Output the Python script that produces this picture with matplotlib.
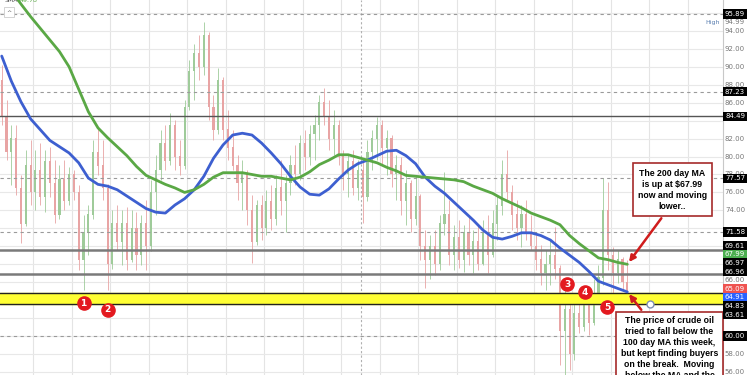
import numpy as np
import matplotlib
matplotlib.use("Agg")
import matplotlib.pyplot as plt
from matplotlib.patches import Rectangle

# daily-ish candles of crude oil
opens = [88.5, 84.5, 80.5, 82.0, 76.5, 72.5, 79.0, 76.0, 78.5, 75.5,
         79.5, 77.0, 73.5, 77.5, 75.0, 78.0, 76.0, 68.5, 71.5, 73.5,
         80.5, 79.0, 76.5, 68.0, 72.5, 70.5, 72.5, 68.5, 72.0, 69.0,
         72.5, 70.0, 76.0, 78.5, 81.5, 79.5, 83.5, 80.0, 79.0, 85.5,
         89.5, 91.5, 90.0, 93.5, 85.5, 83.0, 88.5, 83.0, 81.0, 79.0,
         77.0, 78.0, 74.0, 70.5, 74.5, 72.0, 75.0, 73.0, 76.5, 75.0,
         77.0, 79.0, 78.0, 81.5, 80.0, 82.5, 83.5, 86.0, 84.5, 82.0,
         83.5, 80.0, 78.0, 79.5, 76.5, 78.5, 75.5, 80.5, 82.0, 83.5,
         81.0, 82.0, 78.0, 79.0, 75.0, 77.0, 73.0, 75.5, 70.0, 68.5,
         70.0, 68.0, 72.5, 73.5, 69.0, 71.0, 68.5, 71.5, 69.0, 70.5,
         68.0, 71.5, 69.0, 72.5, 74.5, 78.0, 76.0, 73.5, 72.0, 73.5,
         71.5, 70.0, 68.5, 67.0, 68.0, 69.0, 67.5, 60.5, 63.0, 58.0,
         62.5, 61.0, 63.5, 61.5, 64.5, 66.5, 74.0, 69.0, 67.0, 68.5,
         66.0]
highs = [90.2, 86.3, 83.5, 83.5, 77.9, 80.7, 81.8, 80.7, 81.5, 80.7,
         81.1, 79.6, 79.1, 79.6, 78.8, 78.5, 76.8, 73.5, 74.6, 81.8,
         83.2, 81.8, 76.9, 74.0, 74.6, 74.0, 74.4, 74.0, 73.8, 73.5,
         75.2, 77.4, 80.2, 83.0, 83.5, 84.8, 84.1, 81.8, 86.3, 90.8,
         92.6, 93.5, 95.0, 93.9, 86.9, 89.9, 88.9, 85.2, 83.0, 80.2,
         79.6, 78.5, 75.7, 75.2, 75.7, 76.3, 76.8, 77.9, 79.6, 77.9,
         80.2, 81.3, 82.4, 83.0, 83.5, 84.6, 86.9, 87.6, 86.3, 85.2,
         84.1, 80.7, 80.2, 80.7, 79.6, 79.6, 81.8, 83.0, 84.4, 84.1,
         83.0, 82.4, 80.2, 79.9, 78.5, 77.4, 77.9, 75.8, 71.8, 71.3,
         71.8, 73.5, 78.3, 75.2, 72.4, 72.9, 72.4, 73.5, 71.8, 72.4,
         72.9, 73.5, 74.0, 75.7, 79.6, 80.7, 76.8, 75.2, 74.6, 75.2,
         73.5, 71.3, 70.1, 69.6, 70.7, 72.1, 67.9, 65.1, 64.0, 64.0,
         64.8, 64.6, 65.1, 66.3, 67.9, 77.6, 77.2, 69.9, 69.6, 68.8,
         68.5]
lows = [83.5, 79.6, 76.8, 75.7, 70.4, 72.3, 74.6, 74.0, 74.6, 73.8,
        75.5, 72.6, 73.0, 74.0, 74.6, 75.2, 67.4, 65.1, 69.0, 73.0,
        77.9, 75.2, 65.1, 67.5, 69.6, 67.9, 67.4, 68.2, 67.4, 67.9,
        67.4, 69.5, 73.5, 77.4, 78.5, 79.1, 78.5, 77.9, 78.6, 85.2,
        86.3, 88.5, 89.1, 84.1, 81.8, 82.5, 81.8, 79.6, 78.5, 75.2,
        74.0, 72.4, 68.1, 70.1, 70.7, 71.3, 71.8, 72.4, 73.5, 71.6,
        75.7, 76.8, 77.4, 78.5, 79.1, 79.6, 81.8, 83.5, 80.7, 80.2,
        79.1, 76.3, 75.5, 75.7, 75.2, 72.6, 75.0, 78.5, 79.6, 79.1,
        77.9, 76.6, 75.2, 73.5, 72.4, 71.6, 72.4, 68.5, 65.4, 66.3,
        66.8, 67.4, 71.3, 67.9, 67.4, 67.6, 67.1, 67.9, 67.0, 67.4,
        67.9, 67.0, 68.8, 70.7, 73.5, 75.2, 71.8, 70.7, 69.9, 70.7,
        69.6, 67.4, 65.7, 65.1, 65.7, 66.3, 56.8, 55.6, 56.2, 57.3,
        60.3, 60.6, 60.1, 61.2, 64.0, 65.7, 67.4, 64.8, 65.9, 65.1,
        65.0]
closes = [84.5, 80.5, 82.0, 76.5, 72.5, 79.0, 76.0, 78.5, 75.5, 79.5,
          77.0, 73.5, 77.5, 75.0, 78.0, 76.0, 68.5, 71.5, 73.5, 80.5,
          79.0, 76.5, 68.0, 72.5, 70.5, 72.5, 68.5, 72.0, 69.0, 72.5,
          70.0, 76.0, 78.5, 81.5, 79.5, 83.5, 80.0, 79.0, 85.5, 89.5,
          91.5, 90.0, 93.5, 85.5, 83.0, 88.5, 83.0, 81.0, 79.0, 77.0,
          78.0, 74.0, 70.5, 74.5, 72.0, 75.0, 73.0, 76.5, 75.0, 77.0,
          79.0, 78.0, 81.5, 80.0, 82.5, 83.5, 86.0, 84.5, 82.0, 83.5,
          80.0, 78.0, 79.5, 76.5, 78.5, 75.5, 80.5, 82.0, 83.5, 81.0,
          82.0, 78.0, 79.0, 75.0, 77.0, 73.0, 75.5, 70.0, 68.5, 70.0,
          68.0, 72.5, 73.5, 69.0, 71.0, 68.5, 71.5, 69.0, 70.5, 68.0,
          71.5, 69.0, 72.5, 74.5, 78.0, 76.0, 73.5, 72.0, 73.5, 71.5,
          70.0, 68.5, 67.0, 68.0, 69.0, 67.5, 60.5, 63.0, 58.0, 62.5,
          61.0, 63.5, 61.5, 64.5, 66.5, 74.0, 69.0, 67.0, 68.5, 66.0,
          65.09]

# moving averages, read every 2 bars
ma_step = 2
ma100 = [91.2, 88.4, 86.1, 84.2, 83.0, 81.8, 81.1, 80.4, 79.3, 77.6,
         76.9, 76.7, 76.3, 75.6, 74.9, 74.2, 73.8, 73.7, 74.6, 75.3,
         76.3, 77.8, 79.8, 81.3, 82.4, 82.6, 82.4, 81.5, 80.4, 79.2,
         77.8, 76.6, 75.8, 75.7, 76.4, 77.5, 78.5, 79.2, 79.6, 80.1,
         80.6, 80.7, 80.1, 79.2, 77.7, 76.7, 75.9, 74.9, 73.9, 72.9,
         71.8, 71.0, 70.8, 71.1, 71.5, 71.5, 71.2, 70.7, 69.8, 69.0,
         68.2, 67.2, 66.1, 65.7, 65.3, 64.91]
ma200 = [99.9, 98.5, 97.0, 95.6, 94.3, 93.0, 91.7, 90.0, 87.5, 85.0,
         83.2, 82.1, 81.1, 80.1, 78.9, 77.9, 77.4, 76.9, 76.5, 76.0,
         76.3, 76.9, 77.7, 78.2, 78.2, 78.2, 78.0, 77.8, 77.8, 77.6,
         77.4, 77.7, 78.3, 79.1, 79.6, 80.2, 80.2, 79.9, 79.6, 79.3,
         78.8, 78.4, 77.9, 77.8, 77.7, 77.6, 77.5, 77.4, 77.2, 76.7,
         76.3, 75.9, 75.3, 74.8, 74.3, 73.7, 73.3, 72.9, 72.4, 71.2,
         70.3, 69.5, 68.7, 68.5, 68.2, 67.99]

# horizontal levels
dashed_levels = [95.89, 87.23, 77.57, 71.58, 60.00]
solid_levels = [84.49, 69.61, 66.96]
band_low, band_high = 63.61, 64.83
high_value = 94.99

# right-hand price tags: (value, colour)
tag_values = [95.89, 87.23, 84.49, 77.57, 71.58, 69.61, 67.99, 66.97, 66.96,
              66.00, 65.09, 64.91, 64.83, 63.61, 60.00]
tag_colors = ['black', 'black', 'black', 'black', 'black', 'black', '#4caf50',
              'black', 'black', 'none', '#ef5350', '#2962ff', 'black', 'black',
              'black']
plain_ticks = [94, 92, 90, 88, 86, 82, 80, 78, 76, 74, 58, 56]

# numbered touches of the support band (bar index, price)
touch_bars = [17, 22, 117.5, 121.2, 125.8]
touch_prices = [63.67, 62.9, 65.79, 64.9, 63.2]
touch_labels = ['1', '2', '3', '4', '5']

note_ma200 = "The 200 day MA\nis up at $67.99\nnow and moving\nlower.."
note_ma100 = ("The price of crude oil\ntried to fall below the\n100 day MA this week,\n"
              "but kept finding buyers\non the break.  Moving\nbelow the MA and the")

W, H = 750, 375
AX_W = 723
fig = plt.figure(figsize=(W / 100, H / 100), dpi=100)
ax = fig.add_axes([0, 0, AX_W / W, 1])

bar_px = 4.8125
x_left = -1.72 / bar_px
ax.set_xlim(x_left, x_left + AX_W / bar_px)
ax.set_ylim(55.65, 97.45)

# grid
for k in range(18):
    ax.axvline(6.5 + 8 * k, color='#e4e4e4', lw=0.8, zorder=0)
for p in range(56, 98, 2):
    ax.axhline(p, color='#e8e8e8', lw=0.8, zorder=0)
ax.axvline(74.7, color='#b0b0b0', lw=0.8, ls=(0, (2, 2)), zorder=1)

# candles
n = len(closes)
idx = np.arange(n)
o = np.array(opens)
c = np.array(closes)
up = c >= o
cols = np.where(up, '#9fcb9a', '#e8a4a4')
ax.vlines(idx, lows, highs, colors=cols, lw=0.6, zorder=2)
ax.bar(idx, np.abs(c - o) + 0.05, bottom=np.minimum(o, c), width=0.45,
       color=cols, zorder=2)

# levels
for lv in dashed_levels:
    ax.axhline(lv, color='#9a9a9a', lw=0.8, ls=(0, (3, 3)), zorder=3)
ax.axhline(solid_levels[0], color='#555555', lw=1.0, zorder=3)
for lv in solid_levels[1:]:
    ax.axhline(lv, color='#7a7a7a', lw=1.8, zorder=3)
ax.axhspan(band_low, band_high, color='#ffff33', zorder=3)
ax.axhline(band_low, color='#222222', lw=1.0, zorder=3)
ax.axhline(band_high, color='#222222', lw=1.0, zorder=3)

# moving averages
ma_x = np.arange(len(ma100)) * ma_step
ax.plot(ma_x, ma100, color='#3d5fd0', lw=2.0, zorder=4, solid_capstyle='round')
ax.plot(ma_x, ma200, color='#5aa845', lw=2.0, zorder=4, solid_capstyle='round')

# touch markers
ax.scatter(touch_bars, touch_prices, s=90, color='#e3191f', zorder=6)
for b, p, t in zip(touch_bars, touch_prices, touch_labels):
    ax.text(b, p, t, color='white', fontsize=6.5, ha='center', va='center',
            fontweight='bold', zorder=7)
ax.plot([134.7], [band_low], marker='o', ms=5, mfc='white', mec='#7f8fb0',
        mew=1, zorder=6)

# note boxes
def px(x, y):
    return x / AX_W, 1 - y / H

red = '#d01c1c'
box_kw = dict(transform=ax.transAxes, clip_on=False, facecolor='white',
              edgecolor='#a52a2a', lw=1.2, zorder=8)
x0, y0 = px(633, 216)
x1, y1 = px(712, 163)
ax.add_patch(Rectangle((x0, y0), x1 - x0, y1 - y0, **box_kw))
tx, ty = px(672.5, 190)
ax.text(tx, ty, note_ma200, transform=ax.transAxes, ha='center', va='center',
        fontsize=6.3, fontweight='bold', family='Liberation Sans',
        linespacing=1.25, zorder=9)
x0, y0 = px(616, 390)
x1, y1 = px(723, 312)
ax.add_patch(Rectangle((x0, y0), x1 - x0, y1 - y0, **box_kw))
tx, ty = px(669.5, 316)
ax.text(tx, ty, note_ma100, transform=ax.transAxes, ha='center', va='top',
        fontsize=6.3, fontweight='bold', family='Liberation Sans',
        linespacing=1.3, zorder=9)

ax.annotate('', xy=(n - 1, ma200[-1]), xycoords='data',
            xytext=px(663, 216), textcoords='axes fraction',
            arrowprops=dict(arrowstyle='-|>', color=red, lw=1.8,
                            mutation_scale=9), zorder=9)
ax.annotate('', xy=(n - 1, ma100[-1]), xycoords='data',
            xytext=px(643, 312), textcoords='axes fraction',
            arrowprops=dict(arrowstyle='-|>', color=red, lw=1.8,
                            mutation_scale=9), zorder=9)

# spines / ticks
for s in ['left', 'top', 'bottom']:
    ax.spines[s].set_visible(False)
ax.spines['right'].set_color('#c8c8c8')
ax.set_xticks([])
ax.set_yticks([])

# right-hand labels
lab_x = 735 / AX_W
for t in plain_ticks:
    ax.text(lab_x, t, f"{t:.2f}", transform=ax.get_yaxis_transform(),
            ha='center', va='center', fontsize=5, color='#777777', zorder=5,
            clip_on=False)

# spread tags that collide
order = np.argsort(tag_values)[::-1]
pos = np.array(tag_values, dtype=float)[order]
gap = 0.96
for _ in range(400):
    for j in range(len(pos) - 1):
        d = pos[j] - pos[j + 1]
        if d < gap:
            pos[j] += (gap - d) / 2
            pos[j + 1] -= (gap - d) / 2
for j, k in enumerate(order):
    v = tag_values[k]
    colr = tag_colors[k]
    if colr == 'none':
        ax.text(lab_x, pos[j], f"{v:.2f}", transform=ax.get_yaxis_transform(),
                ha='center', va='center', fontsize=5, color='#777777',
                zorder=10, clip_on=False)
    else:
        ax.text(lab_x, pos[j], f"{v:.2f}", transform=ax.get_yaxis_transform(),
                ha='center', va='center', fontsize=5, color='white',
                zorder=10, clip_on=False,
                bbox=dict(boxstyle='square,pad=0.25', fc=colr, ec='none'))

ax.text(713 / AX_W, high_value, 'High', transform=ax.get_yaxis_transform(),
        ha='center', va='center', fontsize=4.5, color='#5a7fb0', zorder=10)
ax.text(lab_x, high_value, f"{high_value:.2f}", transform=ax.get_yaxis_transform(),
        ha='center', va='center', fontsize=5, color='#777777', zorder=10,
        clip_on=False)

# legend stub top-left
ax.text(5 / AX_W, 1.0, 'SMA', transform=ax.transAxes, ha='left', va='center',
        fontsize=4.5, color='#555555', zorder=10)
ax.text(20 / AX_W, 1.0, '49.78', transform=ax.transAxes, ha='left',
        va='center', fontsize=4.5, color='#5aa845', zorder=10)
ax.text(9 / AX_W, 1 - 12 / H, '^', transform=ax.transAxes, ha='center',
        va='center', fontsize=4.5, color='#555555', zorder=10,
        bbox=dict(boxstyle='square,pad=0.4', fc='white', ec='#cccccc', lw=0.6))

fig.savefig('out.png', dpi=100)
